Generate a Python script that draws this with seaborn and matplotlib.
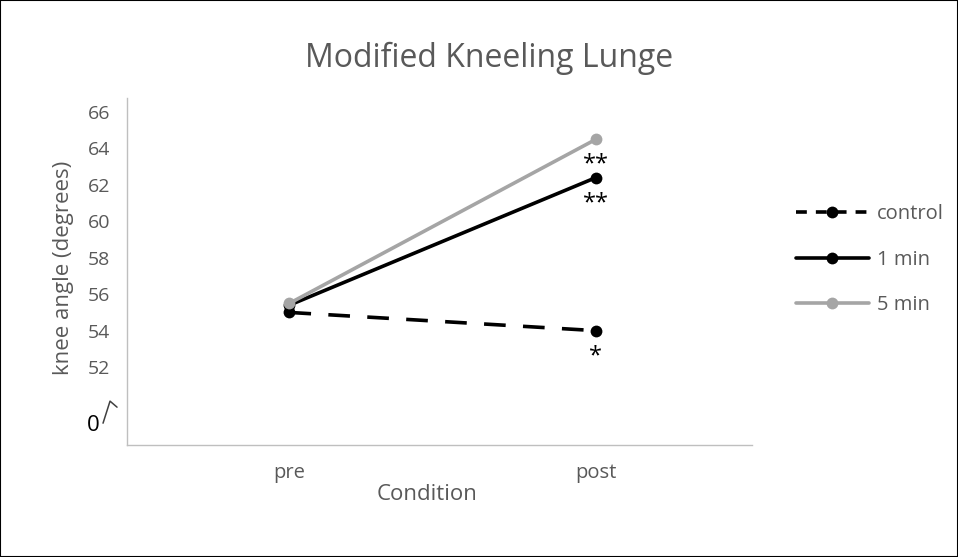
import pandas as pd
import numpy as np
import matplotlib
matplotlib.use("Agg")
import matplotlib.pyplot as plt
import seaborn as sns
from matplotlib.lines import Line2D
from matplotlib.patches import Rectangle

conditions = ["pre", "post"]
groups = ["control", "1 min", "5 min"]
control_vals = [55.0, 54.0]
min1_vals = [55.4, 62.4]
min5_vals = [55.5, 64.5]
stars = ["*", "**", "**"]
yticks = [52, 54, 56, 58, 60, 62, 64, 66]

rows = []
for g, vals in zip(groups, [control_vals, min1_vals, min5_vals]):
    for c, v in zip(conditions, vals):
        rows.append({"Condition": c, "group": g, "angle": v})
df = pd.DataFrame(rows)

sns.set_style("white")
plt.rcParams["font.family"] = ["Open Sans", "DejaVu Sans"]
gray_txt = "#595959"
palette = {"control": "black", "1 min": "black", "5 min": "#A5A5A5"}
dashes = {"control": (6, 4.8), "1 min": "", "5 min": ""}

fig = plt.figure(figsize=(9.58, 5.57), dpi=100)
ax = fig.add_axes([0.1326, 0.201, 0.785 - 0.1326, 0.824 - 0.201])

sns.lineplot(data=df, x="Condition", y="angle", hue="group", style="group",
             palette=palette, dashes=dashes, markers={g: "o" for g in groups},
             markersize=8.5, markeredgewidth=0, linewidth=2.6, sort=False,
             hue_order=groups, style_order=groups, ax=ax, legend=False)

ax.set_xlim(-0.53, 1.51)
ax.set_ylim(47.72, 66.77)
ax.set_yticks(yticks)
ax.set_yticklabels([str(t) for t in yticks])
ax.tick_params(axis="y", length=0, pad=12, labelsize=14, labelcolor=gray_txt)
ax.tick_params(axis="x", length=0, pad=13, labelsize=14.5, labelcolor=gray_txt)

for s in ["top", "right"]:
    ax.spines[s].set_visible(False)
for s in ["left", "bottom"]:
    ax.spines[s].set_color("#BFBFBF")
    ax.spines[s].set_linewidth(1)

ax.set_xlabel("Condition", fontsize=16, color=gray_txt)
ax.set_ylabel("knee angle (degrees)", fontsize=16, color=gray_txt)
ax.xaxis.set_label_coords(0.48, -0.112)
ax.yaxis.set_label_coords(-0.085, 0.51)
fig.text(0.51, 0.896, "Modified Kneeling Lunge", ha="center", va="center",
         fontsize=23, color=gray_txt)

# broken axis marker and "0"
ax.text(-0.054, 48.8, "0", transform=ax.get_yaxis_transform(), ha="center",
        va="center", fontsize=16, color="black")
ax.plot([-0.0384, -0.0272, -0.016], [48.92, 50.13, 49.8],
        transform=ax.get_yaxis_transform(), color="#404040", lw=1.1, clip_on=False)

# significance stars under the post values
for val, st in zip([control_vals[1], min1_vals[1], min5_vals[1]], stars):
    ax.text(1, val - 1.4, st, ha="center", va="center", fontsize=17, color="black")

handles = [
    Line2D([], [], color="black", lw=2.6, dashes=(3, 2.5), marker="o", markersize=8.5, markeredgewidth=0),
    Line2D([], [], color="black", lw=2.6, marker="o", markersize=8.5, markeredgewidth=0),
    Line2D([], [], color="#A5A5A5", lw=2.6, marker="o", markersize=8.5, markeredgewidth=0),
]
leg = ax.legend(handles, groups, loc="center left", bbox_to_anchor=(0.812, 0.534),
                bbox_transform=fig.transFigure, frameon=False, fontsize=14.5,
                handlelength=3.6, handletextpad=0.4, labelspacing=1.25)
for t in leg.get_texts():
    t.set_color(gray_txt)

fig.patches.append(Rectangle((0, 0), 1, 1, transform=fig.transFigure, fill=False,
                             edgecolor="black", lw=1.5))

fig.savefig("out.png", dpi=100)
